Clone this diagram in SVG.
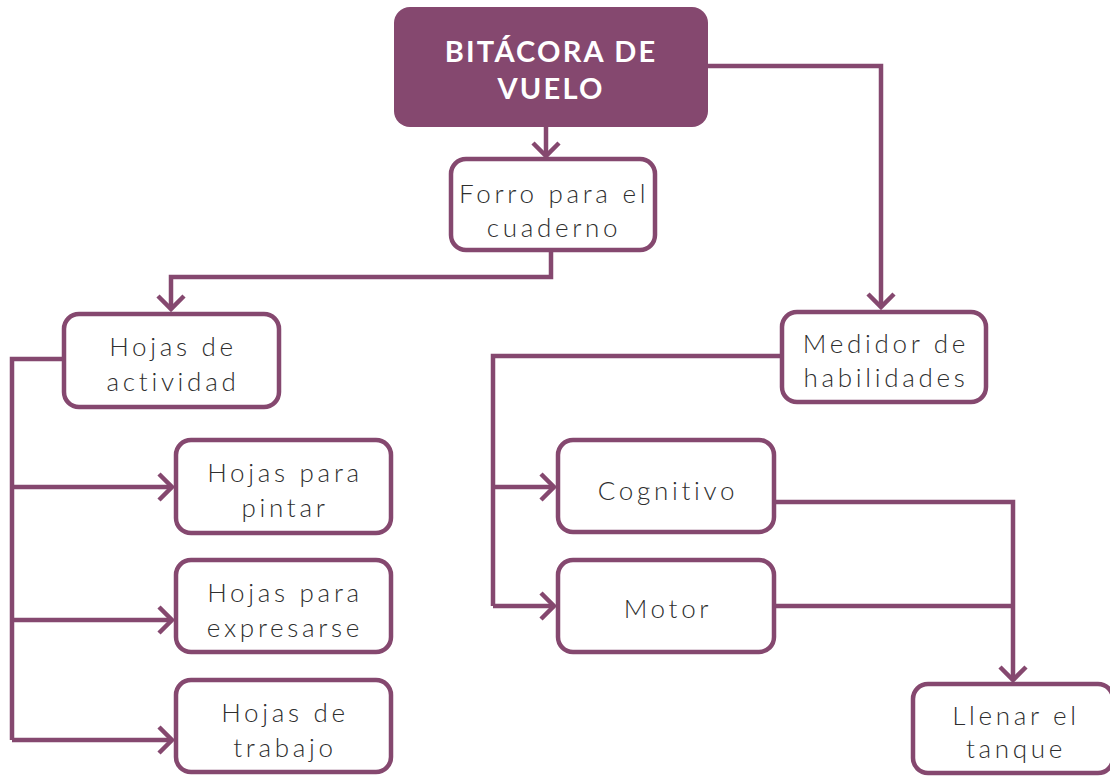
<svg xmlns="http://www.w3.org/2000/svg" width="1110" height="776" viewBox="0 0 1110 776">
<style>
.box{fill:#ffffff;stroke:#85486f;stroke-width:4.5}
.main{fill:#85486f}
.t{font-family:"Lato","Open Sans","Liberation Sans",sans-serif;font-weight:300;font-size:26px;fill:#2e2e2e;text-anchor:middle;letter-spacing:3.7px}
.tt{font-family:"Lato","Open Sans","Liberation Sans",sans-serif;font-weight:700;font-size:29px;fill:#ffffff;text-anchor:middle;letter-spacing:2.2px}
.c{fill:none;stroke:#85486f;stroke-width:4.5;stroke-linejoin:miter}
</style>
<defs>
<marker id="arr" markerUnits="userSpaceOnUse" markerWidth="32" markerHeight="32" viewBox="-16 -16 32 32" refX="0" refY="0" orient="auto" overflow="visible">
<path d="M-13,-13 L0,0 L-13,13" fill="none" stroke="#85486f" stroke-width="4.5"/>
</marker>
</defs>
<rect width="1110" height="776" fill="#ffffff"/>
<g id="connectors">
<path class="c" d="M546,127 V156" marker-end="url(#arr)"/>
<path class="c" d="M708,66 H881 V307" marker-end="url(#arr)"/>
<path class="c" d="M551,250 V277 H171 V309" marker-end="url(#arr)"/>
<path class="c" d="M63,359 H12 V740"/>
<path class="c" d="M12,487 H172" marker-end="url(#arr)"/>
<path class="c" d="M12,620 H172" marker-end="url(#arr)"/>
<path class="c" d="M12,740 H172" marker-end="url(#arr)"/>
<path class="c" d="M782,356 H493 V606"/>
<path class="c" d="M493,487 H554" marker-end="url(#arr)"/>
<path class="c" d="M493,606 H554" marker-end="url(#arr)"/>
<path class="c" d="M774,502 H1013 V680" marker-end="url(#arr)"/>
<path class="c" d="M774,606 H1013"/>
</g>
<g id="n-bitacora">
<rect class="main" x="394" y="7" width="314" height="120" rx="16"/>
<text class="tt" x="551" y="62">BITÁCORA DE</text>
<text class="tt" x="551" y="99">VUELO</text>
</g>
<g id="n-forro">
<rect class="box" x="451" y="159" width="204" height="91" rx="15"/>
<text class="t" x="554" y="203">Forro para el</text>
<text class="t" x="554" y="237">cuaderno</text>
</g>
<g id="n-hojas-actividad">
<rect class="box" x="64" y="314" width="215" height="93" rx="15"/>
<text class="t" x="173" y="356">Hojas de</text>
<text class="t" x="173" y="391">actividad</text>
</g>
<g id="n-hojas-pintar">
<rect class="box" x="176" y="440" width="215" height="93" rx="15"/>
<text class="t" x="285" y="482">Hojas para</text>
<text class="t" x="285" y="517">pintar</text>
</g>
<g id="n-hojas-expresarse">
<rect class="box" x="176" y="560" width="215" height="92" rx="15"/>
<text class="t" x="285" y="602">Hojas para</text>
<text class="t" x="285" y="637">expresarse</text>
</g>
<g id="n-hojas-trabajo">
<rect class="box" x="176" y="680" width="215" height="92" rx="15"/>
<text class="t" x="285" y="722">Hojas de</text>
<text class="t" x="285" y="757">trabajo</text>
</g>
<g id="n-medidor">
<rect class="box" x="782" y="312" width="204" height="90" rx="15"/>
<text class="t" x="886" y="353">Medidor de</text>
<text class="t" x="886" y="387">habilidades</text>
</g>
<g id="n-cognitivo">
<rect class="box" x="558" y="440" width="216" height="92" rx="15"/>
<text class="t" x="668" y="500">Cognitivo</text>
</g>
<g id="n-motor">
<rect class="box" x="558" y="560" width="216" height="92" rx="15"/>
<text class="t" x="668" y="618">Motor</text>
</g>
<g id="n-llenar">
<rect class="box" x="913" y="684" width="200" height="89" rx="15"/>
<text class="t" x="1016" y="725">Llenar el</text>
<text class="t" x="1016" y="758">tanque</text>
</g>
</svg>
